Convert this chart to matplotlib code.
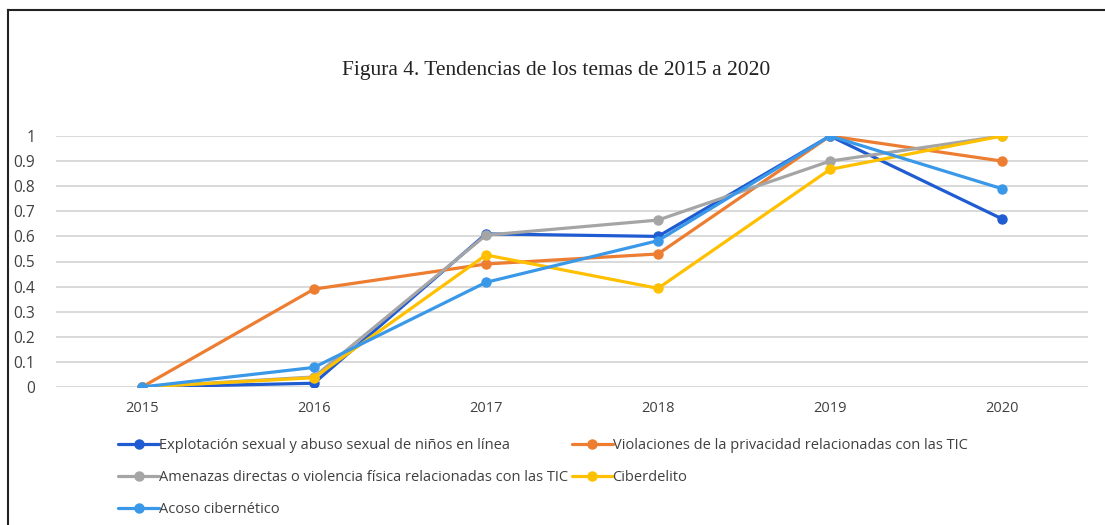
import matplotlib
matplotlib.use("Agg")
from matplotlib import pyplot as plt
from matplotlib.lines import Line2D

years = ["2015", "2016", "2017", "2018", "2019", "2020"]
explotacion = [0, 0.015, 0.61, 0.60, 1.0, 0.67]
violaciones = [0, 0.39, 0.49, 0.53, 1.0, 0.90]
amenazas = [0, 0.04, 0.605, 0.665, 0.90, 1.0]
ciberdelito = [0, 0.037, 0.526, 0.393, 0.867, 1.0]
acoso = [0, 0.078, 0.417, 0.583, 1.0, 0.79]

names = [
    "Explotación sexual y abuso sexual de niños en línea",
    "Violaciones de la privacidad relacionadas con las TIC",
    "Amenazas directas o violencia física relacionadas con las TIC",
    "Ciberdelito",
    "Acoso cibernético",
]
series = [explotacion, violaciones, amenazas, ciberdelito, acoso]
colors = ["#1F5BD1", "#ED7D31", "#A5A5A5", "#FFC000", "#3A98E8"]

sans = ["Open Sans", "DejaVu Sans"]

fig = plt.figure(figsize=(11.05, 5.25), dpi=100)
ax = fig.add_axes([56 / 1105, 1 - 387 / 525, (1088 - 56) / 1105, (387 - 136) / 525])

x = list(range(len(years)))
handles = []
for vals, name, c in zip(series, names, colors):
    h, = ax.plot(x, vals, color=c, lw=2.3, marker="o", ms=6.5, label=name,
                 solid_capstyle="round", solid_joinstyle="round")
    handles.append(h)

ax.set_xlim(-0.5, len(years) - 0.5)
ax.set_ylim(0, 1)
ax.set_yticks([i / 10 for i in range(11)])
ax.set_yticklabels(["0", "0.1", "0.2", "0.3", "0.4", "0.5", "0.6", "0.7", "0.8", "0.9", "1"])
ax.set_xticks(x)
ax.set_xticklabels(years)
ax.grid(axis="y", color="#D9D9D9", lw=1.4)
ax.set_axisbelow(True)
ax.tick_params(length=0, labelcolor="#404040")
ax.tick_params(axis="y", pad=15, labelsize=11.2)
ax.tick_params(axis="x", pad=10, labelsize=10.5)
for lbl in ax.get_xticklabels() + ax.get_yticklabels():
    lbl.set_family(sans)
for s in ax.spines.values():
    s.set_visible(False)

fig.text(556 / 1105, 1 - 71 / 525, "Figura 4. Tendencias de los temas de 2015 a 2020",
         ha="center", va="center", fontsize=15.5, family=["Liberation Serif", "DejaVu Serif"],
         color="#222222")

# Excel-style legend, column-major order for matplotlib
order = [0, 2, 4, 1, 3]
leg = fig.legend([handles[i] for i in order], [names[i] for i in order],
                 ncol=2, loc="upper left", bbox_to_anchor=(105 / 1105, 1 - 425 / 525),
                 frameon=False, handlelength=2.8, handletextpad=0.0, columnspacing=0.25,
                 labelspacing=1.15, prop={"family": sans, "size": 10.5})
for t in leg.get_texts():
    t.set_color("#404040")

# outer frame (top and left edges)
fig.add_artist(Line2D([8 / 1105, 1], [1 - 10 / 525, 1 - 10 / 525], color="#222222", lw=1.5))
fig.add_artist(Line2D([8 / 1105, 8 / 1105], [0, 1 - 10 / 525], color="#222222", lw=1.5))

fig.savefig("out.png", dpi=100)
